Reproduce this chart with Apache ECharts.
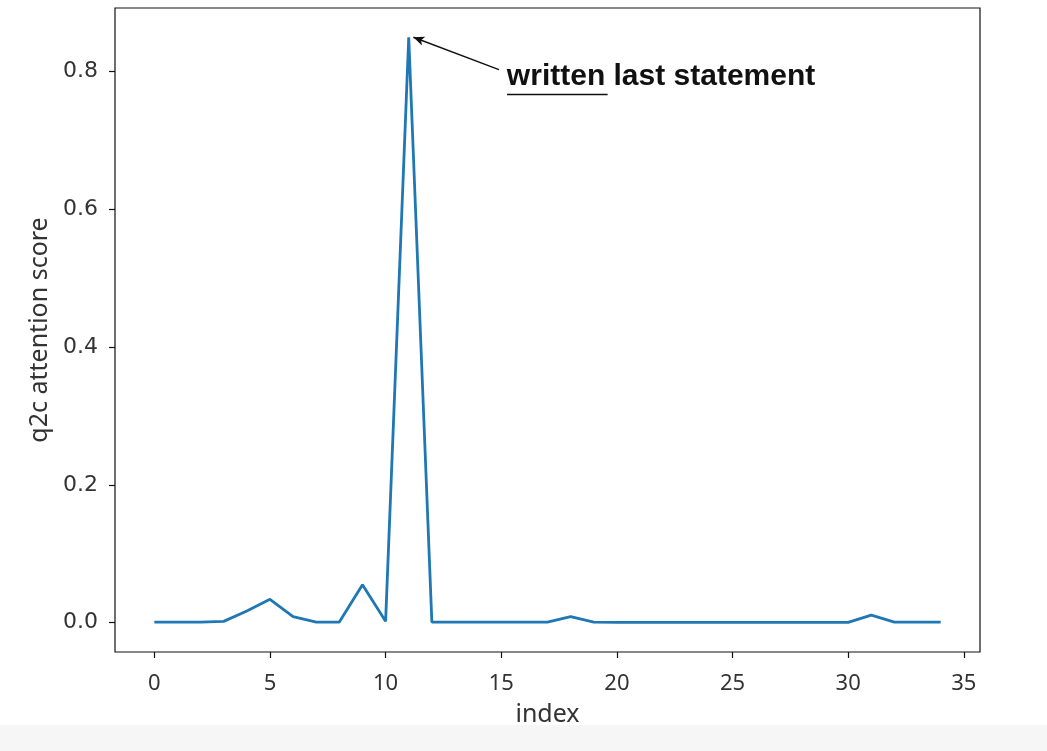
<!DOCTYPE html>
<html lang="en">
<head>
    <meta charset="UTF-8">
    <title>q2c attention</title>
    <script src="https://cdn.jsdelivr.net/npm/echarts@6.0.0/dist/echarts.min.js"></script>
    <style>
        html, body { margin: 0; padding: 0; background: #fff; }
        #main { width: 1047px; height: 751px; }
    </style>
</head>
<body>
    <div id="main"></div>
    <script>
        // values
        var indices = [];
        for (var i = 0; i < 35; i++) indices.push(i);
        var scores = [0.001, 0.001, 0.001, 0.002, 0.017, 0.034, 0.009, 0.001, 0.001, 0.055,
            0.002, 0.85, 0.001, 0.001, 0.001, 0.001, 0.001, 0.001, 0.009, 0.001,
            0.0005, 0.0005, 0.0005, 0.0005, 0.0005, 0.0005, 0.0005, 0.0005, 0.0005, 0.0005,
            0.0005, 0.011, 0.001, 0.001, 0.001];
        var xTicks = [0, 5, 10, 15, 20, 25, 30, 35];
        var yTicks = [0, 0.2, 0.4, 0.6, 0.8];

        // annotation (data coords)
        var peakPoint = [11.2, 0.85];
        var arrowTail = [14.9, 0.803];
        var textAnchor = [15.2, 0.793];
        var underline = [[15.25, 0.768], [19.6, 0.768]];

        var chartDom = document.getElementById('main');
        var myChart = echarts.init(chartDom);

        var option = {
            animation: false,
            backgroundColor: '#fff',
            graphic: [{
                type: 'rect',
                left: 0, bottom: 0,
                shape: { width: 1047, height: 26 },
                style: { fill: '#f6f6f6' },
                z: -10
            }],
            grid: {
                left: 115, right: 67, top: 8, bottom: 99,
                show: true, borderColor: '#111', borderWidth: 1.2,
                backgroundColor: '#fff'
            },
            xAxis: {
                type: 'value',
                min: -1.7, max: 35.7,
                name: 'index',
                nameLocation: 'middle',
                nameGap: 50,
                nameTextStyle: { color: '#333', fontSize: 25, fontFamily: 'Noto Sans' },
                axisLine: { show: false, onZero: false },
                splitLine: { show: false },
                axisTick: { show: true, length: 6, customValues: xTicks, lineStyle: { color: '#111', width: 1.2 } },
                axisLabel: {
                    margin: 21, customValues: xTicks,
                    color: '#333', fontSize: 22, fontFamily: 'Noto Sans'
                }
            },
            yAxis: {
                type: 'value',
                min: -0.0425, max: 0.8925,
                name: 'q2c attention score',
                nameLocation: 'middle',
                nameGap: 60,
                nameTextStyle: { color: '#333', fontSize: 25, fontFamily: 'Noto Sans' },
                axisLine: { show: false, onZero: false },
                splitLine: { show: false },
                axisTick: { show: true, length: 6, customValues: yTicks, lineStyle: { color: '#111', width: 1.2 } },
                axisLabel: {
                    margin: 17, customValues: yTicks,
                    formatter: function (v) { return v.toFixed(1); },
                    color: '#333', fontSize: 22, fontFamily: 'DejaVu Sans'
                }
            },
            series: [{
                type: 'line',
                data: indices.map(function (x, k) { return [x, scores[k]]; }),
                showSymbol: false,
                symbol: 'none',
                lineStyle: { color: '#1f77b4', width: 2.8 },
                markLine: {
                    silent: true,
                    animation: false,
                    label: { show: false },
                    data: [
                        [
                            { coord: arrowTail, symbol: 'none' },
                            { coord: peakPoint, symbol: 'arrow', symbolSize: [7, 11] }
                        ],
                        [
                            { coord: underline[0], symbol: 'none' },
                            { coord: underline[1], symbol: 'none' }
                        ]
                    ],
                    lineStyle: { color: '#111', width: 1.4, type: 'solid' },
                    emphasis: { disabled: true }
                },
                markPoint: {
                    silent: true,
                    symbol: 'circle',
                    symbolSize: 2,
                    itemStyle: { color: 'rgba(0,0,0,0)' },
                    label: {
                        show: true,
                        position: 'right',
                        distance: 0,
                        formatter: 'written last statement',
                        color: '#111',
                        fontSize: 30,
                        fontWeight: 'bold',
                        fontFamily: 'Liberation Sans'
                    },
                    data: [{ name: 'note', coord: textAnchor }]
                }
            }]
        };

        myChart.setOption(option);
    </script>
</body>
</html>
